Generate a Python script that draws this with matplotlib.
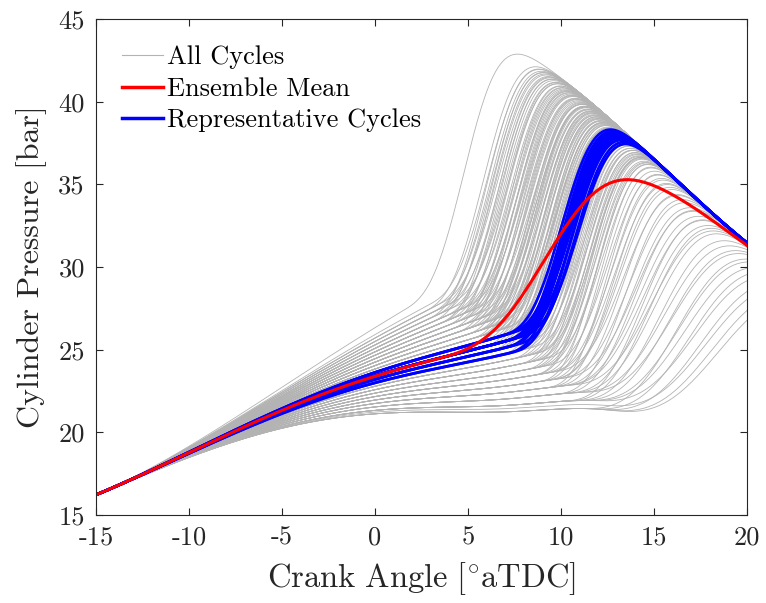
import numpy as np
import matplotlib.pyplot as plt

plt.rcParams['font.family'] = ['cmr10', 'DejaVu Serif']
plt.rcParams['mathtext.fontset'] = 'cm'
plt.rcParams['axes.unicode_minus'] = False

# motored-like base pressure trace [bar] vs crank angle
mot_ca = [-15, -10, -5, 0, 5, 10, 15, 20]
mot_p = [16.2, 18.55, 20.0, 20.9, 20.4, 18.8, 16.6, 14.3]

# per-cycle start of main combustion [deg aTDC] and early pressure rise factor
soc = [1.1,
       2.15, 2.3, 2.4, 2.5, 2.55, 2.65, 2.7, 2.8, 2.9, 2.95,
       3.0, 3.05, 3.15, 3.2, 3.3, 3.35, 3.4, 3.5, 3.55, 3.6, 3.7, 3.75, 3.8, 3.85, 3.9, 3.95,
       4.0, 4.05, 4.1, 4.15, 4.2, 4.25, 4.3, 4.35, 4.4, 4.45, 4.5, 4.55, 4.6, 4.65, 4.7, 4.75,
       4.8, 4.85, 4.9, 4.92, 4.95, 4.98,
       5.0, 5.03, 5.08, 5.12, 5.15, 5.2, 5.24, 5.28, 5.3, 5.35, 5.4, 5.44, 5.48, 5.5, 5.55, 5.6,
       5.62, 5.66, 5.7, 5.75, 5.78, 5.82, 5.86, 5.9, 5.94, 5.98,
       6.0, 6.04, 6.08, 6.1, 6.15, 6.2, 6.22, 6.26, 6.3, 6.35, 6.38, 6.42, 6.45, 6.5, 6.54, 6.58,
       6.6, 6.65, 6.7, 6.72, 6.76, 6.8, 6.85, 6.9, 6.94, 6.98,
       7.0, 7.05, 7.1, 7.15, 7.2, 7.25, 7.3, 7.35, 7.4, 7.45, 7.5, 7.55, 7.6, 7.65, 7.7, 7.75,
       7.8, 7.85, 7.9, 7.95, 7.97, 7.99,
       8.0, 8.05, 8.1, 8.2, 8.25, 8.3, 8.35, 8.4, 8.5, 8.55, 8.6, 8.65, 8.7, 8.75, 8.8, 8.85, 8.9, 8.95,
       9.0, 9.1, 9.15, 9.2, 9.3, 9.4, 9.45, 9.5, 9.6, 9.65, 9.7, 9.8, 9.85, 9.95,
       10.0, 10.15, 10.3, 10.4, 10.5, 10.6, 10.7, 10.85, 10.95,
       11.1, 11.25, 11.4, 11.55, 11.7]
pre_rise = [0.26,
            0.23, 0.21, 0.24, 0.22, 0.20, 0.23, 0.21, 0.22, 0.19, 0.23,
            0.21, 0.19, 0.22, 0.20, 0.18, 0.21, 0.19, 0.22, 0.17, 0.20, 0.18, 0.21, 0.19, 0.16, 0.20, 0.18,
            0.19, 0.17, 0.20, 0.18, 0.16, 0.19, 0.17, 0.20, 0.15, 0.18, 0.16, 0.19, 0.17, 0.14, 0.18, 0.16,
            0.15, 0.17, 0.19, 0.14, 0.16, 0.15,
            0.17, 0.15, 0.18, 0.14, 0.16, 0.13, 0.17, 0.15, 0.12, 0.16, 0.14, 0.17, 0.13, 0.15, 0.12, 0.16,
            0.14, 0.11, 0.15, 0.13, 0.16, 0.12, 0.14, 0.11, 0.15, 0.13,
            0.14, 0.12, 0.15, 0.11, 0.13, 0.16, 0.10, 0.13, 0.12, 0.14, 0.11, 0.13, 0.10, 0.12, 0.14, 0.11,
            0.12, 0.10, 0.13, 0.11, 0.12, 0.09, 0.12, 0.10, 0.11, 0.13,
            0.10, 0.12, 0.09, 0.11, 0.08, 0.10, 0.12, 0.09, 0.11, 0.08, 0.10, 0.07, 0.09, 0.11, 0.08, 0.09,
            0.07, 0.10, 0.08, 0.06, 0.09, 0.07,
            0.08, 0.06, 0.09, 0.07, 0.05, 0.08, 0.06, 0.07, 0.05, 0.08, 0.06, 0.04, 0.07, 0.05, 0.06, 0.04, 0.06, 0.05,
            0.05, 0.04, 0.06, 0.03, 0.05, 0.04, 0.03, 0.05, 0.04, 0.02, 0.04, 0.03, 0.02, 0.04,
            0.03, 0.02, 0.03, 0.02, 0.03, 0.01, 0.02, 0.02, 0.01,
            0.02, 0.01, 0.015, 0.01, 0.01]

# cycles picked as representative (by their start of combustion)
rep_soc = [6.42, 6.5, 6.58, 6.6, 6.65, 6.7, 6.72, 6.76, 6.85, 6.9, 6.98, 7.05, 7.15, 7.3]

# ignition delay added to every start of combustion [deg]
delay = 0.4

xticks = [-15, -10, -5, 0, 5, 10, 15, 20]
yticks = [15, 20, 25, 30, 35, 40, 45]

ca = np.linspace(-15, 20, 351)
p_mot = np.polyval(np.polyfit(mot_ca, mot_p, 4), ca)


def cycle_trace(s, k):
    pre = 1 + k * ((ca + 15) / 15) ** 1.75 + 0.25 / (1 + np.exp(-(ca - 10.5) / 2.5))
    dur = 7.0 + max(0.0, s - 8.5) * 2.0
    y = np.clip((ca - s - delay) / dur, 0, None)
    xb = 1 - np.exp(-5 * y ** 3)
    return p_mot * ((1 - xb) * pre + xb * 2.2)


cycles = np.array([cycle_trace(s, k) for s, k in zip(soc, pre_rise)])
mean_p = cycles.mean(axis=0)
rep_idx = [soc.index(v) for v in rep_soc]

fig = plt.figure(figsize=(7.66, 6.03), dpi=100)
ax = fig.add_axes([0.1253, 0.1459, 0.8499, 0.8226])

for c in cycles:
    ax.plot(ca, c, color='#b3b3b3', lw=0.6)
for i in rep_idx:
    ax.plot(ca, cycles[i], color='#0000ff', lw=2.0)
ax.plot(ca, mean_p, color='#ff0000', lw=2.2)

ax.set_xlim(-15, 20)
ax.set_ylim(15, 45)
ax.set_xticks(xticks, labels=[str(t) for t in xticks])
ax.set_yticks(yticks, labels=[str(t) for t in yticks])
ax.tick_params(direction='in', top=True, right=True, length=5, width=0.8,
               labelsize=19, colors='#262626', pad=8)
for sp in ax.spines.values():
    sp.set_color('#262626')
    sp.set_linewidth(0.8)

ax.set_xlabel(r'$\mathrm{Crank\ Angle\ [^{\circ}aTDC]}$', fontsize=23.5, color='#262626')
ax.set_ylabel('Cylinder Pressure [bar]', fontsize=23, color='#262626')
ax.xaxis.set_label_coords(0.5, -0.09)
ax.yaxis.set_label_coords(-0.076, 0.5)

h1, = ax.plot([], [], color='#b3b3b3', lw=0.8)
h2, = ax.plot([], [], color='#ff0000', lw=2.5)
h3, = ax.plot([], [], color='#0000ff', lw=2.5)
ax.legend([h1, h2, h3], ['All Cycles', 'Ensemble Mean', 'Representative Cycles'],
          loc='upper left', frameon=False, fontsize=19, handlelength=1.55,
          handletextpad=0.15, labelspacing=0.3, borderaxespad=0.6)

fig.savefig('out.png', dpi=100)
